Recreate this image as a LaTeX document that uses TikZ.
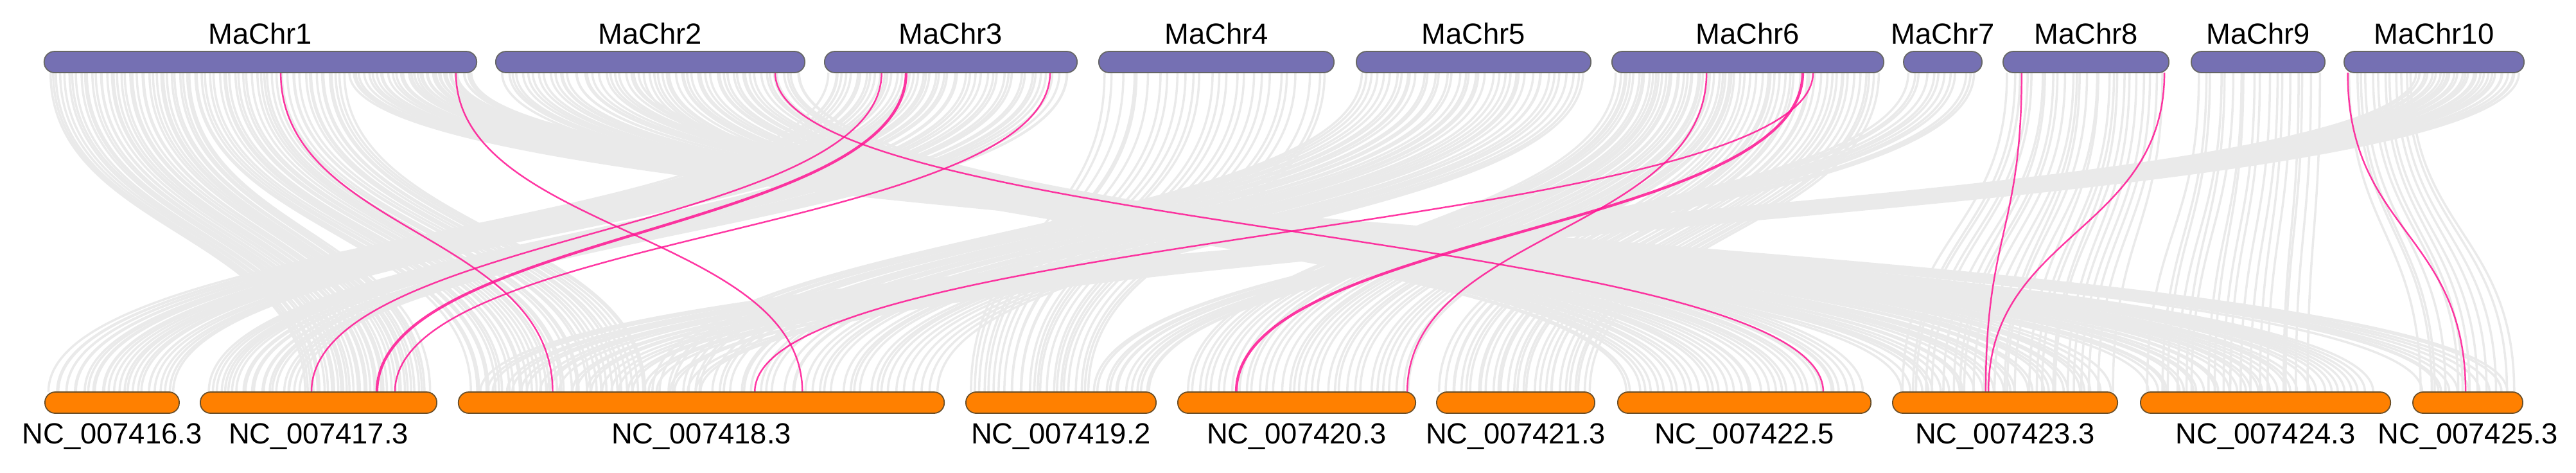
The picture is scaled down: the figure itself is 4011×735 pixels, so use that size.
\documentclass[tikz,border=0pt]{standalone}
\usepackage{fontspec}
\setmainfont{Liberation Sans}
\usepackage{tikz}
\usetikzlibrary{calc, backgrounds}
\definecolor{chrpurple}{RGB}{117, 112, 179}
\definecolor{chrorange}{RGB}{255, 128, 0}
\definecolor{barbrown}{RGB}{105, 78, 40}
\definecolor{linkgray}{RGB}{234, 234, 234}
\definecolor{linkpink}{RGB}{255, 20, 147}

% one block of gray links: top bar, from, to, bottom bar, from, to, count
\newcommand{\synband}[7]{%
  \foreach \k in {1,...,#7}{%
    \pgfmathsetmacro{\ft}{#2+(#3-#2)*(\k-1+rnd)/#7}%
    \pgfmathsetmacro{\fb}{#5+(#6-#5)*(\k-1+rnd)/#7}%
    \draw[graylink] ($(#1.south west)!\ft!(#1.south east)$) .. controls +(0,248) and +(0,-248) .. ($(#4.north west)!\fb!(#4.north east)$);
  }%
}

\begin{document}
\begin{tikzpicture}[x=0.01cm, y=-0.01cm,
    chrtop/.style={draw=black!60, line width=0.5pt, fill=chrpurple, rounded corners=0.16cm, minimum height=0.33cm, inner sep=0pt, outer sep=0pt},
    chrbot/.style={draw=barbrown, line width=0.5pt, fill=chrorange, rounded corners=0.16cm, minimum height=0.33cm, inner sep=0pt, outer sep=0pt},
    chrlabel/.style={anchor=base, inner sep=0pt, font=\fontsize{12.9}{15}\selectfont},
    graylink/.style={draw=linkgray, line width=1pt},
    pinklink/.style={draw=linkpink, line width=0.7pt, opacity=0.85},
    boldlink/.style={pinklink, line width=1.2pt}]
    \useasboundingbox (0,0) rectangle (4011,735);

    % Query chromosomes
    \node[chrtop, minimum width=6.73cm] (ma1) at (405.5,96.5) {};
    \node[chrtop, minimum width=4.81cm] (ma2) at (1012.5,96.5) {};
    \node[chrtop, minimum width=3.93cm] (ma3) at (1480.5,96.5) {};
    \node[chrtop, minimum width=3.66cm] (ma4) at (1894,96.5) {};
    \node[chrtop, minimum width=3.65cm] (ma5) at (2294.5,96.5) {};
    \node[chrtop, minimum width=4.23cm] (ma6) at (2721.5,96.5) {};
    \node[chrtop, minimum width=1.22cm] (ma7) at (3025,96.5) {};
    \node[chrtop, minimum width=2.58cm] (ma8) at (3248,96.5) {};
    \node[chrtop, minimum width=2.08cm] (ma9) at (3516,96.5) {};
    \node[chrtop, minimum width=2.80cm] (ma10) at (3790,96.5) {};

    \node[chrlabel] (lma1) at ($(ma1.north)+(0,-12)$) {MaChr1};
    \node[chrlabel] (lma2) at ($(ma2.north)+(0,-12)$) {MaChr2};
    \node[chrlabel] (lma3) at ($(ma3.north)+(0,-12)$) {MaChr3};
    \node[chrlabel] (lma4) at ($(ma4.north)+(0,-12)$) {MaChr4};
    \node[chrlabel] (lma5) at ($(ma5.north)+(0,-12)$) {MaChr5};
    \node[chrlabel] (lma6) at ($(ma6.north)+(0,-12)$) {MaChr6};
    \node[chrlabel] (lma7) at ($(ma7.north)+(0,-12)$) {MaChr7};
    \node[chrlabel] (lma8) at ($(ma8.north)+(0,-12)$) {MaChr8};
    \node[chrlabel] (lma9) at ($(ma9.north)+(0,-12)$) {MaChr9};
    \node[chrlabel] (lma10) at ($(ma10.north)+(0,-12)$) {MaChr10};

    % Reference chromosomes
    \node[chrbot, minimum width=2.09cm] (nc416) at (174.5,626.5) {};
    \node[chrbot, minimum width=3.68cm] (nc417) at (496,626.5) {};
    \node[chrbot, minimum width=7.56cm] (nc418) at (1092,626.5) {};
    \node[chrbot, minimum width=2.96cm] (nc419) at (1652,626.5) {};
    \node[chrbot, minimum width=3.70cm] (nc420) at (2019,626.5) {};
    \node[chrbot, minimum width=2.46cm] (nc421) at (2360,626.5) {};
    \node[chrbot, minimum width=3.94cm] (nc422) at (2716,626.5) {};
    \node[chrbot, minimum width=3.50cm] (nc423) at (3122,626.5) {};
    \node[chrbot, minimum width=3.89cm] (nc424) at (3527.5,626.5) {};
    \node[chrbot, minimum width=1.71cm] (nc425) at (3842.5,626.5) {};

    \node[chrlabel] (lnc416) at ($(nc416.south)+(0,47)$) {NC\_007416.3};
    \node[chrlabel] (lnc417) at ($(nc417.south)+(0,47)$) {NC\_007417.3};
    \node[chrlabel] (lnc418) at ($(nc418.south)+(0,47)$) {NC\_007418.3};
    \node[chrlabel] (lnc419) at ($(nc419.south)+(0,47)$) {NC\_007419.2};
    \node[chrlabel] (lnc420) at ($(nc420.south)+(0,47)$) {NC\_007420.3};
    \node[chrlabel] (lnc421) at ($(nc421.south)+(0,47)$) {NC\_007421.3};
    \node[chrlabel] (lnc422) at ($(nc422.south)+(0,47)$) {NC\_007422.5};
    \node[chrlabel] (lnc423) at ($(nc423.south)+(0,47)$) {NC\_007423.3};
    \node[chrlabel] (lnc424) at ($(nc424.south)+(0,47)$) {NC\_007424.3};
    \node[chrlabel] (lnc425) at ($(nc425.south)+(0,47)$) {NC\_007425.3};

    \begin{scope}[on background layer]
    % Collinear blocks
    \pgfmathsetseed{11}
    \synband{ma1}{0.009}{0.343}{nc417}{0.43}{0.973}{38}
    \synband{ma1}{0.343}{0.700}{nc418}{0.021}{0.392}{38}
    \synband{ma1}{0.700}{0.990}{nc424}{0.018}{0.943}{32}
    \synband{ma1}{0.848}{0.990}{nc425}{0.076}{0.895}{10}
    \synband{ma2}{0.017}{0.474}{nc423}{0.037}{0.980}{28}
    \synband{ma2}{0.474}{0.994}{nc422}{0.015}{0.980}{36}
    \synband{ma3}{0.015}{0.499}{nc416}{0.024}{0.980}{28}
    \synband{ma3}{0.499}{0.982}{nc417}{0.022}{0.430}{22}
    \synband{ma4}{0.011}{0.980}{nc419}{0.020}{0.662}{26}
    \synband{ma5}{0.008}{0.980}{nc418}{0.392}{0.987}{40}
    \synband{ma6}{0.012}{0.449}{nc420}{0.016}{0.990}{34}
    \synband{ma6}{0.449}{0.993}{nc421}{0.012}{0.988}{30}
    \synband{ma7}{0.033}{0.967}{nc419}{0.662}{0.983}{12}
    \synband{ma8}{0.023}{0.973}{nc423}{0.023}{0.980}{26}
    \synband{ma9}{0.014}{0.976}{nc424}{0.018}{0.686}{18}
    \synband{ma10}{0.018}{0.393}{nc425}{0.047}{0.953}{12}
    \synband{ma10}{0.393}{0.982}{nc418}{0.034}{0.510}{28}

    % Highlighted pairs
    \draw[pinklink] ($(ma1.south west)!0.547!(ma1.south east)$) .. controls +(0,248) and +(0,-248) .. ($(nc418.north west)!0.194!(nc418.north east)$);
    \draw[pinklink] ($(ma1.south west)!0.952!(ma1.south east)$) .. controls +(0,248) and +(0,-248) .. ($(nc418.north west)!0.708!(nc418.north east)$);
    \draw[pinklink] ($(ma2.south west)!0.904!(ma2.south east)$) .. controls +(0,248) and +(0,-248) .. ($(nc422.north west)!0.812!(nc422.north east)$);
    \draw[pinklink] ($(ma3.south west)!0.226!(ma3.south east)$) .. controls +(0,248) and +(0,-248) .. ($(nc417.north west)!0.470!(nc417.north east)$);
    \draw[boldlink] ($(ma3.south west)!0.323!(ma3.south east)$) .. controls +(0,248) and +(0,-248) .. ($(nc417.north west)!0.747!(nc417.north east)$);
    \draw[pinklink] ($(ma3.south west)!0.893!(ma3.south east)$) .. controls +(0,248) and +(0,-248) .. ($(nc417.north west)!0.823!(nc417.north east)$);
    \draw[pinklink] ($(ma6.south west)!0.348!(ma6.south east)$) .. controls +(0,248) and +(0,-248) .. ($(nc420.north west)!0.965!(nc420.north east)$);
    \draw[boldlink] ($(ma6.south west)!0.702!(ma6.south east)$) .. controls +(0,248) and +(0,-248) .. ($(nc420.north west)!0.246!(nc420.north east)$);
    \draw[pinklink] ($(ma6.south west)!0.740!(ma6.south east)$) .. controls +(0,248) and +(0,-248) .. ($(nc418.north west)!0.610!(nc418.north east)$);
    \draw[pinklink] ($(ma8.south west)!0.112!(ma8.south east)$) .. controls +(0,248) and +(0,-248) .. ($(nc423.north west)!0.414!(nc423.north east)$);
    \draw[pinklink] ($(ma8.south west)!0.973!(ma8.south east)$) .. controls +(0,248) and +(0,-248) .. ($(nc423.north west)!0.426!(nc423.north east)$);
    \draw[pinklink] ($(ma10.south west)!0.020!(ma10.south east)$) .. controls +(0,248) and +(0,-248) .. ($(nc425.north west)!0.480!(nc425.north east)$);
    \end{scope}
\end{tikzpicture}
\end{document}
